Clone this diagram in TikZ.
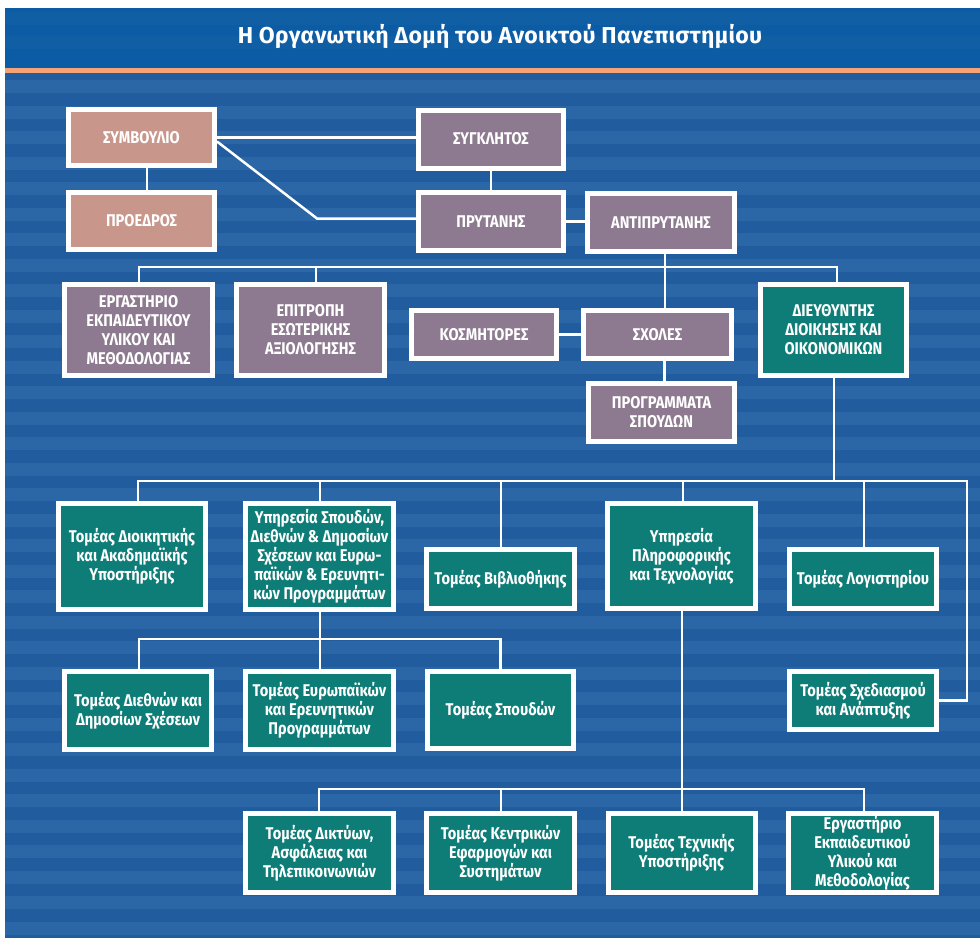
\documentclass[tikz,border=0pt]{standalone}
\usepackage{fontspec}
\setmainfont{Fira Sans}
\newfontfamily\boxfont{Fira Sans}[FakeStretch=0.86]
\newfontfamily\titlefont{Fira Sans}[LetterSpace=1.5]
\usetikzlibrary{calc}
\definecolor{cheader}{HTML}{0B5CA4}
\definecolor{corange}{HTML}{F4A377}
\definecolor{cbg}{HTML}{215D9E}
\definecolor{cband}{HTML}{2B66A7}
\definecolor{csalmon}{HTML}{C8968A}
\definecolor{cmauve}{HTML}{8E7A90}
\definecolor{cteal}{HTML}{0E7D77}
\begin{document}
\begin{tikzpicture}[x=1pt,y=-1pt,
  box/.style={draw=white, line width=5pt, inner sep=2pt, align=center, text=white,
    font={\boxfont\bfseries\fontsize{17pt}{19pt}\selectfont}},
  sbox/.style={box, fill=csalmon},
  mbox/.style={box, fill=cmauve},
  tbox/.style={box, fill=cteal},
  conn/.style={draw=white, line width=2.5pt}]
% canvas
\useasboundingbox (0,0) rectangle (980,938);
\fill[white] (0,0) rectangle (980,938);
\fill[cbg] (5,8) rectangle (980,938);
\foreach \yy in {80,105.5,...,930} \fill[cband] (5,\yy) rectangle (980,\yy+13);
\fill[cheader] (5,8) rectangle (980,68);
\foreach \yy in {12,36} \fill[cheader!85!cband] (5,\yy) rectangle (980,\yy+13);
\fill[corange] (5,68) rectangle (980,72.5);
\node[text=white, font={\titlefont\bfseries\fontsize{23pt}{26pt}\selectfont}] (title) at (500,36) {Η Οργανωτική Δομή του Ανοικτού Πανεπιστημίου};

% top level
\node[sbox, minimum width=146pt, minimum height=56pt] (symv) at (141.5,137.5) {ΣΥΜΒΟΥΛΙΟ};
\node[sbox, minimum width=146pt, minimum height=57pt] (proe) at (141.5,221) {ΠΡΟΕΔΡΟΣ};
\node[mbox, minimum width=145pt, minimum height=58pt] (sygk) at (491,139) {ΣΥΓΚΛΗΤΟΣ};
\node[mbox, minimum width=145pt, minimum height=58pt] (prut) at (491,221.5) {ΠΡΥΤΑΝΗΣ};
\node[mbox, minimum width=147pt, minimum height=58pt] (anti) at (661,222.5) {ΑΝΤΙΠΡΥΤΑΝΗΣ};

% second level
\node[mbox, minimum width=148pt, minimum height=91pt] (erg) at (138.5,330) {ΕΡΓΑΣΤΗΡΙΟ\\ΕΚΠΑΙΔΕΥΤΙΚΟΥ\\ΥΛΙΚΟΥ ΚΑΙ\\ΜΕΘΟΔΟΛΟΓΙΑΣ};
\node[mbox, minimum width=148pt, minimum height=91pt] (epit) at (310.5,330) {ΕΠΙΤΡΟΠΗ\\ΕΣΩΤΕΡΙΚΗΣ\\ΑΞΙΟΛΟΓΗΣΗΣ};
\node[mbox, minimum width=145pt, minimum height=48pt] (kosm) at (484,334.5) {ΚΟΣΜΗΤΟΡΕΣ};
\node[mbox, minimum width=148pt, minimum height=48pt] (sxol) at (657.5,334.5) {ΣΧΟΛΕΣ};
\node[mbox, minimum width=146pt, minimum height=58pt] (prog) at (661.5,412.5) {ΠΡΟΓΡΑΜΜΑΤΑ\\ΣΠΟΥΔΩΝ};
\node[tbox, minimum width=146pt, minimum height=91pt] (dieu) at (833.5,330) {ΔΙΕΥΘΥΝΤΗΣ\\ΔΙΟΙΚΗΣΗΣ ΚΑΙ\\ΟΙΚΟΝΟΜΙΚΩΝ};

% third level
\node[tbox, minimum width=147pt, minimum height=106pt] (dioik) at (132,556.5) {Τομέας Διοικητικής\\και Ακαδημαϊκής\\Υποστήριξης};
\node[tbox, minimum width=148pt, minimum height=106pt] (ypsp) at (319.5,556.5) {Υπηρεσία Σπουδών,\\Διεθνών \& Δημοσίων\\Σχέσεων και Ευρω-\\παϊκών \& Ερευνητι-\\κών Προγραμμάτων};
\node[tbox, minimum width=148pt, minimum height=59pt] (vivl) at (500.5,579) {Τομέας Βιβλιοθήκης};
\node[tbox, minimum width=148pt, minimum height=105pt] (pliro) at (681.5,556) {Υπηρεσία\\Πληροφορικής\\και Τεχνολογίας};
\node[tbox, minimum width=147pt, minimum height=59pt] (logi) at (863,579) {Τομέας Λογιστηρίου};

% fourth level
\node[tbox, minimum width=147pt, minimum height=78pt] (dieth) at (138,710.5) {Τομέας Διεθνών και\\Δημοσίων Σχέσεων};
\node[tbox, minimum width=148pt, minimum height=78pt] (europ) at (319.5,710.5) {Τομέας Ευρωπαϊκών\\και Ερευνητικών\\Προγραμμάτων};
\node[tbox, minimum width=146pt, minimum height=77pt] (spoud) at (500.5,710) {Τομέας Σπουδών};
\node[tbox, minimum width=147pt, minimum height=58pt] (sxed) at (863,700.5) {Τομέας Σχεδιασμού\\και Ανάπτυξης};

% fifth level
\node[tbox, minimum width=148pt, minimum height=79pt] (dikt) at (319.5,853) {Τομέας Δικτύων,\\Ασφάλειας και\\Τηλεπικοινωνιών};
\node[tbox, minimum width=148pt, minimum height=79pt] (kentr) at (500.5,853) {Τομέας Κεντρικών\\Εφαρμογών και\\Συστημάτων};
\node[tbox, minimum width=147pt, minimum height=79pt] (techn) at (681.5,853) {Τομέας Τεχνικής\\Υποστήριξης};
\node[tbox, minimum width=148pt, minimum height=79pt] (erg2) at (862.5,853) {Εργαστήριο\\Εκπαιδευτικού\\Υλικού και\\Μεθοδολογίας};

% bus coordinates
\coordinate (d1) at (317,218.5);
\coordinate (b1) at (665,267);
\coordinate (b2) at (834,481);
\coordinate (b2r) at (967,481);
\coordinate (b2c) at (967,700.5);
\coordinate (b3) at (320,639);
\coordinate (b4) at (682,789);

% top connectors
\draw[conn] (symv.east) -- (symv.east -| sygk.west);
\draw[conn] ($(symv.east)+(0,4)$) -- (d1) -- (d1 -| prut.west);
\draw[conn] ([xshift=5.5pt]symv.south) -- ([xshift=5.5pt]proe.north);
\draw[conn] (sygk.south) -- (prut.north);
\draw[conn] (prut.east) -- (prut.east -| anti.west);

% bus 1
\draw[conn] ([xshift=4pt]anti.south) -- ([xshift=7.5pt]sxol.north);
\draw[conn] ([xshift=0.5pt]erg.north) |- ([xshift=3.5pt]dieu.north |- b1) -- ([xshift=3.5pt]dieu.north);
\draw[conn] ([xshift=5.5pt]epit.north) -- ([xshift=5.5pt]epit.north |- b1);
\draw[conn] (kosm.east |- sxol.west) -- (sxol.west);
\draw[conn] ([xshift=7pt]sxol.south) -- ([xshift=3pt]prog.north);

% bus 2
\draw[conn] ([xshift=0.5pt]dieu.south) -- (b2);
\draw[conn] ([xshift=6pt]dioik.north) |- (b2r) -- (b2c) -- (sxed.east);
\draw[conn] ([xshift=0.5pt]ypsp.north) -- ([xshift=0.5pt]ypsp.north |- b2);
\draw[conn] ([xshift=0.5pt]vivl.north) -- ([xshift=0.5pt]vivl.north |- b2);
\draw[conn] ([xshift=1.5pt]pliro.north) -- ([xshift=1.5pt]pliro.north |- b2);
\draw[conn] ([xshift=1pt]logi.north) -- ([xshift=1pt]logi.north |- b2);

% bus 3
\draw[conn] ([xshift=0.5pt]ypsp.south) -- ([xshift=0.5pt]europ.north);
\draw[conn] ([xshift=1pt]dieth.north) |- (spoud.north |- b3) -- (spoud.north);

% bus 4
\draw[conn] ([xshift=0.5pt]pliro.south) -- ([xshift=0.5pt]techn.north);
\draw[conn] ([xshift=-0.5pt]dikt.north) |- ([xshift=1.5pt]erg2.north |- b4) -- ([xshift=1.5pt]erg2.north);
\draw[conn] ([xshift=0.5pt]kentr.north) -- ([xshift=0.5pt]kentr.north |- b4);
\end{tikzpicture}
\end{document}
